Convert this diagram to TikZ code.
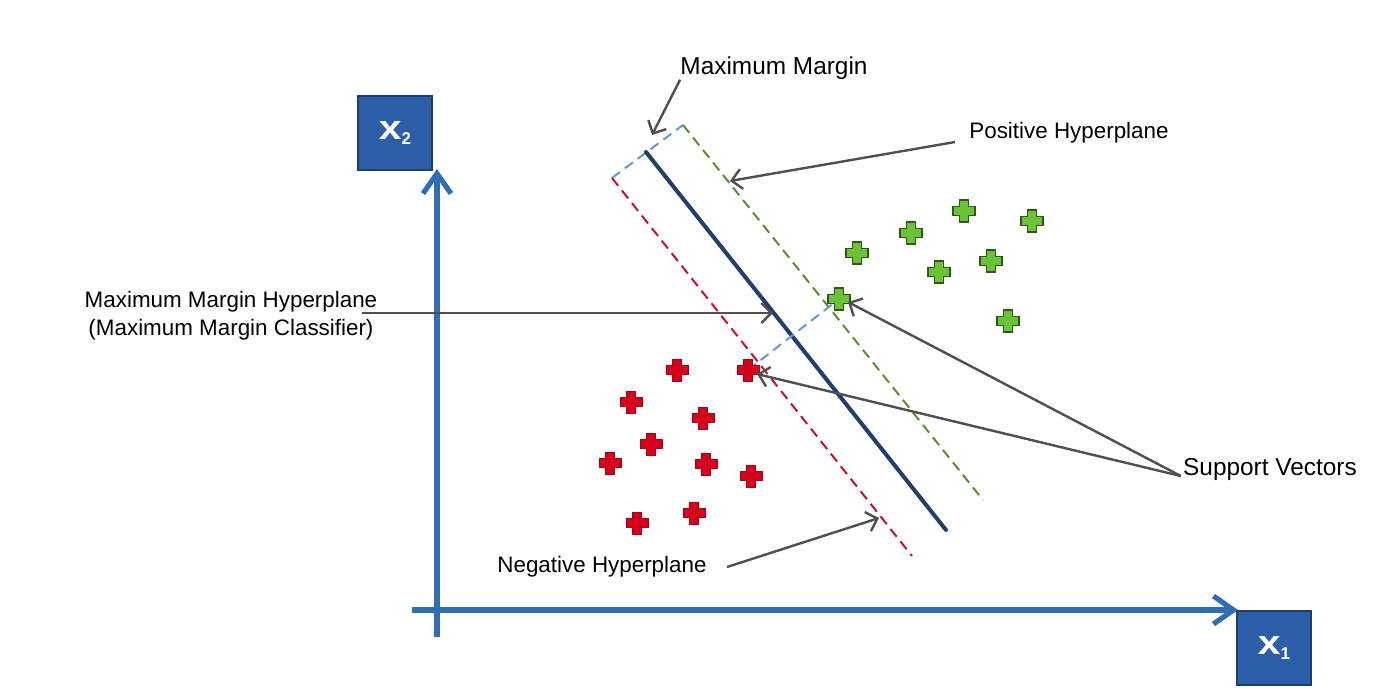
\documentclass[tikz,border=0pt]{standalone}
\usepackage{fontspec}
\setmainfont{Liberation Sans}
\usetikzlibrary{arrows.meta}
\definecolor{axisblue}{HTML}{2F6DB5}
\definecolor{boxblue}{HTML}{2D5EA8}
\definecolor{boxedge}{HTML}{1E3E70}
\definecolor{planeblue}{HTML}{203F6E}
\definecolor{posgreen}{HTML}{5E8A2C}
\definecolor{negred}{HTML}{C8102E}
\definecolor{margblue}{HTML}{6A96CC}
\definecolor{pointgreen}{HTML}{6CC235}
\definecolor{pointedge}{HTML}{2E5A18}
\definecolor{pointred}{HTML}{D6001C}
\definecolor{callgray}{HTML}{4F4F4F}

\tikzset{
  axisline/.style={draw=axisblue, line width=2.6pt, -{Straight Barb[length=10pt,width=14pt]}},
  axisbox/.style={draw=boxedge, fill=boxblue, line width=1pt, minimum size=37pt, inner sep=0pt, text=white},
  planeline/.style={line width=2pt, line cap=round},
  marginline/.style={line width=1pt, dash pattern=on 5pt off 3pt},
  callout/.style={draw=callgray, line width=1.2pt, -{Straight Barb[length=5pt,width=10pt]}},
  lbl/.style={inner sep=0pt, font=\fontsize{12.2}{14}\selectfont},
  smalllbl/.style={inner sep=0pt, font=\fontsize{11.2}{14}\selectfont},
  crosspic/.pic={\path[pic actions] (-4.5,-11) -- (4.5,-11) -- (4.5,-4.5) -- (11,-4.5) -- (11,4.5) -- (4.5,4.5)
    -- (4.5,11) -- (-4.5,11) -- (-4.5,4.5) -- (-11,4.5) -- (-11,-4.5) -- (-4.5,-4.5) -- cycle;},
  gpoint/.style={fill=pointgreen, draw=pointedge, line width=0.8pt},
  rpoint/.style={fill=pointred, draw=pointred!80!black, line width=0.4pt}
}
\newcommand{\axislabel}[1]{\bfseries\scalebox{1.2}[1]{\fontsize{17}{17}\selectfont x}\raisebox{-2.5pt}{\fontsize{8.5}{8.5}\selectfont #1}}

\begin{document}
\begin{tikzpicture}[x=0.5pt, y=-0.5pt]
  \useasboundingbox (0,0) rectangle (1394,687);

  % axes
  \coordinate (ybot) at (437,637);
  \coordinate (ytop) at (437,169);
  \coordinate (xleft) at (412,610);
  \coordinate (xright) at (1238,610);
  \draw[axisline] (ybot) -- (ytop);
  \draw[axisline] (xleft) -- (xright);
  \node[axisbox] (xtwo) at (395,133) {\axislabel{2}};
  \node[axisbox] (xone) at (1274,648) {\axislabel{1}};

  % hyperplanes
  \coordinate (midtop) at (646,152);
  \coordinate (midbot) at (946,530);
  \coordinate (postop) at (683,125);
  \coordinate (posbot) at (983,500);
  \coordinate (negtop) at (612,178);
  \coordinate (negbot) at (912,556);
  \draw[marginline, draw=margblue] (negtop) -- (postop);
  \draw[marginline, draw=posgreen] (postop) -- (posbot);
  \draw[marginline, draw=negred] (negtop) -- (negbot);
  \draw[planeline, draw=planeblue] (midtop) -- (midbot);

  % support vectors
  \coordinate (gsv) at (839,299);
  \coordinate (rsv) at (748,370);
  \draw[marginline, draw=margblue] (rsv) -- (gsv);

  % points
  \foreach \p in {(857,253),(911,233),(964,211),(1032,221),(939,272),(991,261),(1008,321)}
    \pic[gpoint] at \p {crosspic};
  \pic[gpoint] at (gsv) {crosspic};
  \foreach \p in {(677,370),(631,402),(703,418),(651,444),(610,463),(706,464),(751,476),(637,523),(694,513)}
    \pic[rpoint] at \p {crosspic};
  \pic[rpoint] at (rsv) {crosspic};

  % labels
  \node[lbl] (maxmargin) at (774,68) {Maximum Margin};
  \node[smalllbl] (posplane) at (1069,133) {Positive Hyperplane};
  \node[smalllbl, align=center] (mmplane) at (231,316) {Maximum Margin Hyperplane\\(Maximum Margin Classifier)};
  \node[lbl] (supvec) at (1270,470) {Support Vectors};
  \node[smalllbl] (negplane) at (602,567) {Negative Hyperplane};

  \coordinate (mmtip) at (652,135);
  \coordinate (pptip) at (730,181);
  \coordinate (hptip) at (773,313);
  \coordinate (nptip) at (879,518);
  \draw[callout] (maxmargin.south west) -- (mmtip);
  \draw[callout] ([shift={(-14,9)}]posplane.west) -- (pptip);
  \draw[callout] ([shift={(-16,-3)}]mmplane.east) -- (hptip);
  \draw[callout] ([shift={(-2,6)}]supvec.west) -- ([shift={(9,3)}]gsv);
  \draw[callout] ([shift={(-2,6)}]supvec.west) -- ([shift={(9,4)}]rsv);
  \draw[callout] ([shift={(20,0)}]negplane.east) -- (nptip);
\end{tikzpicture}
\end{document}
